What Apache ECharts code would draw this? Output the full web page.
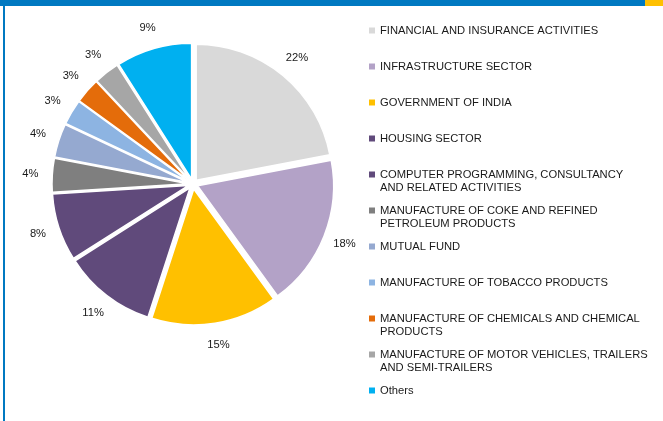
<!DOCTYPE html>
<html>
<head>
<meta charset="utf-8">
<script src="https://cdn.jsdelivr.net/npm/echarts@6/dist/echarts.min.js"></script>
<style>
  html, body { margin: 0; padding: 0; background: #fff; }
  #chart { width: 663px; height: 421px; }
</style>
</head>
<body>
<div id="chart"></div>
<script>
// Sector shares of the portfolio (%), clockwise from 12 o'clock
const sectors = [
  'FINANCIAL AND INSURANCE ACTIVITIES',
  'INFRASTRUCTURE SECTOR',
  'GOVERNMENT OF INDIA',
  'HOUSING SECTOR',
  'COMPUTER PROGRAMMING, CONSULTANCY\nAND RELATED ACTIVITIES',
  'MANUFACTURE OF COKE AND REFINED\nPETROLEUM PRODUCTS',
  'MUTUAL FUND',
  'MANUFACTURE OF TOBACCO PRODUCTS',
  'MANUFACTURE OF CHEMICALS AND CHEMICAL\nPRODUCTS',
  'MANUFACTURE OF MOTOR VEHICLES, TRAILERS\nAND SEMI-TRAILERS',
  'Others'
];
const shares = [22, 18, 15, 11, 8, 4, 4, 3, 3, 3, 9];

const palette = [
  '#D9D9D9', '#B3A2C7', '#FFC000', '#604A7B', '#604A7B', '#7F7F7F',
  '#95A9D0', '#8DB4E2', '#E46C0A', '#A6A6A6', '#00B0F0'
];

const CX = 193, CY = 184, R = 136, LABEL_DIST = 160;
const FONT = 'Liberation Sans, Arial, sans-serif';

const chart = echarts.init(document.getElementById('chart'), null, { renderer: 'canvas' });

chart.setOption({
  animation: false,
  backgroundColor: '#ffffff',
  graphic: [
    { type: 'rect', left: 0, top: 0, shape: { width: 645, height: 6 }, style: { fill: '#0079C1' } },
    { type: 'rect', left: 645, top: 0, shape: { width: 18, height: 6 }, style: { fill: '#FFC000' } },
    { type: 'rect', left: 3, top: 0, shape: { width: 2, height: 421 }, style: { fill: '#0079C1' } }
  ],
  legend: {
    orient: 'vertical',
    left: 369,
    top: 11,
    padding: 0,
    itemGap: -3,
    itemWidth: 6,
    itemHeight: 6,
    icon: 'rect',
    selectedMode: false,
    itemStyle: { borderWidth: 0 },
    data: sectors,
    // three text lines per entry: a blank one above, so the first text line sits on the icon
    formatter: name => '\n' + (name.indexOf('\n') >= 0 ? name : name + '\n'),
    textStyle: {
      fontFamily: FONT,
      fontSize: 11.2,
      color: '#1a1a1a',
      lineHeight: 13
    }
  },
  series: [
    {
      type: 'pie',
      center: [CX, CY],
      radius: [0, R],
      startAngle: 90,
      clockwise: true,
      selectedMode: 'multiple',
      selectedOffset: 5,
      itemStyle: { borderColor: '#ffffff', borderWidth: 1.5 },
      select: { itemStyle: { borderColor: '#ffffff', borderWidth: 1.5 } },
      emphasis: { disabled: true },
      label: { show: false },
      labelLine: { show: false },
      data: sectors.map((name, i) => ({
        name: name,
        value: shares[i],
        selected: true,
        itemStyle: { color: palette[i] }
      }))
    },
    {
      // transparent ring carrying the percentage labels just outside the pie
      type: 'pie',
      center: [CX, CY],
      radius: [LABEL_DIST - 10, LABEL_DIST + 10],
      startAngle: 90,
      clockwise: true,
      silent: true,
      emphasis: { disabled: true },
      itemStyle: { color: 'rgba(0,0,0,0)', borderWidth: 0 },
      label: {
        show: true,
        position: 'inside',
        formatter: p => p.value + '%',
        fontFamily: FONT,
        fontSize: 11.2,
        color: '#1a1a1a'
      },
      labelLine: { show: false },
      data: sectors.map((name, i) => ({ name: name, value: shares[i] }))
    }
  ]
});
</script>
</body>
</html>
